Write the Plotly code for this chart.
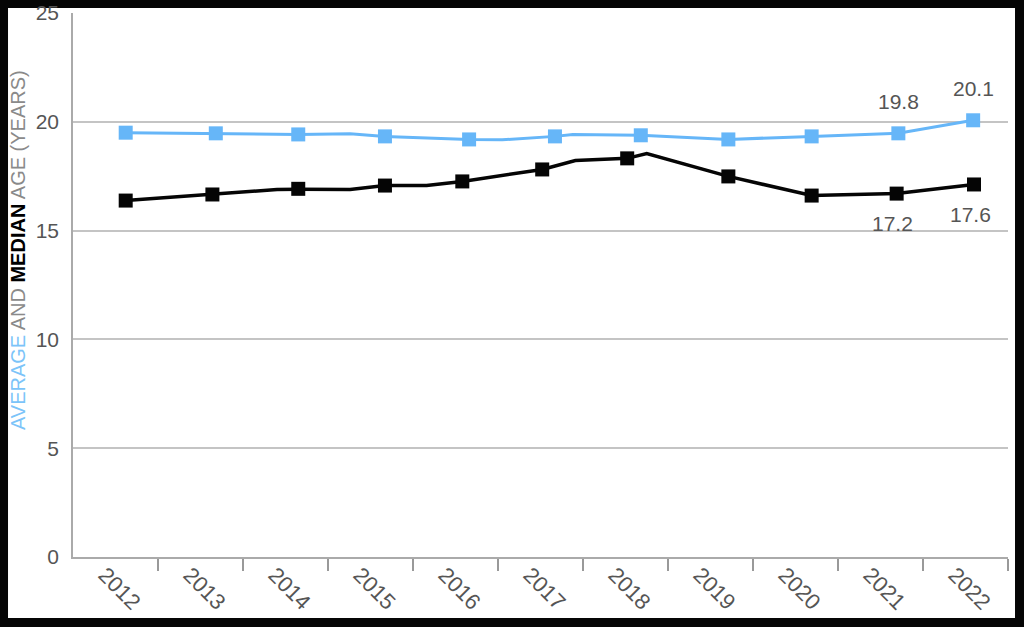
import plotly.graph_objects as go

# category axis: years, with tick marks on the boundaries between them
years = list(range(2012, 2023))

# average age (light blue) - marker positions and values
avg_x = [2012.12, 2013.18, 2014.15, 2015.17, 2016.16, 2017.17, 2018.18, 2019.21, 2020.19, 2021.21, 2022.09]
avg_age = [19.50, 19.47, 19.42, 19.33, 19.19, 19.33, 19.38, 19.19, 19.33, 19.47, 20.07]
# the drawn line has a few extra bends between the markers
avg_line_x = [2012.12, 2013.18, 2014.15, 2014.76, 2015.17, 2016.16, 2016.55, 2017.17, 2017.38,
              2018.18, 2019.21, 2020.19, 2021.21, 2022.09]
avg_line_y = [19.50, 19.47, 19.42, 19.45, 19.33, 19.19, 19.17, 19.33, 19.42,
              19.38, 19.19, 19.33, 19.47, 20.07]
avg_text = ["", "", "", "", "", "", "", "", "", "19.8", "20.1"]

# median age (black)
med_x = [2012.12, 2013.14, 2014.15, 2015.17, 2016.08, 2017.02, 2018.02, 2019.21, 2020.19, 2021.19, 2022.10]
med_age = [16.38, 16.66, 16.92, 17.07, 17.26, 17.81, 18.32, 17.49, 16.61, 16.70, 17.12]
med_line_x = [2012.12, 2013.14, 2013.90, 2014.15, 2014.76, 2015.17, 2015.66, 2016.08, 2017.02,
              2017.41, 2018.02, 2018.25, 2019.21, 2020.19, 2021.19, 2022.10]
med_line_y = [16.38, 16.66, 16.89, 16.90, 16.89, 17.07, 17.07, 17.26, 17.81,
              18.22, 18.32, 18.54, 17.49, 16.61, 16.70, 17.12]
med_text = ["", "", "", "", "", "", "", "", "", "17.2", "17.6"]

y_ticks = [0, 5, 10, 15, 20, 25]

BLUE = "#66b6f8"
BLACK = "#050505"
GREY_TEXT = "#555555"
FONT = "Liberation Sans"

fig = go.Figure()

fig.add_trace(go.Scatter(x=avg_line_x, y=avg_line_y, mode="lines",
                         line=dict(color=BLUE, width=3), hoverinfo="skip", showlegend=False))
fig.add_trace(go.Scatter(x=avg_x, y=avg_age, mode="markers", name="Average",
                         marker=dict(symbol="square", size=14, color=BLUE), showlegend=False))
fig.add_trace(go.Scatter(x=med_line_x, y=med_line_y, mode="lines",
                         line=dict(color=BLACK, width=3.5), hoverinfo="skip", showlegend=False))
fig.add_trace(go.Scatter(x=med_x, y=med_age, mode="markers", name="Median",
                         marker=dict(symbol="square", size=14, color=BLACK), showlegend=False))

annotations = []
# value labels above the average and below the median markers
for x, y, t in zip(avg_x, avg_age, avg_text):
    if t:
        annotations.append(dict(x=x, y=y, text=t, showarrow=False, yshift=32,
                                font=dict(family=FONT, size=21, color=GREY_TEXT)))
for x, y, t in zip(med_x, med_age, med_text):
    if t:
        annotations.append(dict(x=x, y=y, text=t, showarrow=False, yshift=-30, xshift=-4,
                                font=dict(family=FONT, size=21, color=GREY_TEXT)))

# rotated year labels, centred under each category
for yr in years:
    annotations.append(dict(x=yr, y=-0.058, xref="x", yref="paper", text=str(yr),
                            textangle=45, showarrow=False, xanchor="center", yanchor="middle",
                            xshift=4,
                            font=dict(family=FONT, size=22, color=GREY_TEXT)))

# multi coloured y axis title
annotations.append(dict(
    x=-0.059, y=0.564, xref="paper", yref="paper", textangle=-90, showarrow=False,
    xanchor="center", yanchor="middle",
    text=('<span style="color:#7cc4f9">AVERAGE</span> AND '
          '<span style="color:#000000"><b>MEDIAN</b></span> AGE (YEARS)'),
    font=dict(family=FONT, size=20, color="#8a8a8a")))

fig.update_layout(
    width=1024, height=627,
    margin=dict(l=73, r=16, t=13, b=70),
    paper_bgcolor="#050505",
    plot_bgcolor="white",
    annotations=annotations,
    shapes=[dict(type="rect", xref="paper", yref="paper", x0=-0.0695, x1=1.0075, y0=-0.112, y1=1.009,
                 fillcolor="white", line=dict(width=0), layer="below")],
    xaxis=dict(
        range=[2011.5, 2022.5], automargin=False,
        tickmode="array", tickvals=[y + 0.5 for y in years],
        showticklabels=False, ticks="outside", ticklen=12, tickwidth=1.5, tickcolor="#999999",
        showgrid=False, zeroline=False,
        showline=True, linecolor="#aaaaaa", linewidth=1.5,
    ),
    yaxis=dict(
        range=[0, 25], automargin=False, tickmode="array", tickvals=y_ticks,
        ticks="outside", ticklen=8, tickcolor="rgba(0,0,0,0)",
        tickfont=dict(family=FONT, size=21, color=GREY_TEXT),
        showgrid=True, gridcolor="#c4c4c4", gridwidth=1.5, zeroline=False,
        showline=True, linecolor="#aaaaaa", linewidth=1.5,
    ),
)

fig.write_html("out.html", config={"displayModeBar": False},
               post_script="document.body.style.margin='0';document.body.style.background='#050505';")
